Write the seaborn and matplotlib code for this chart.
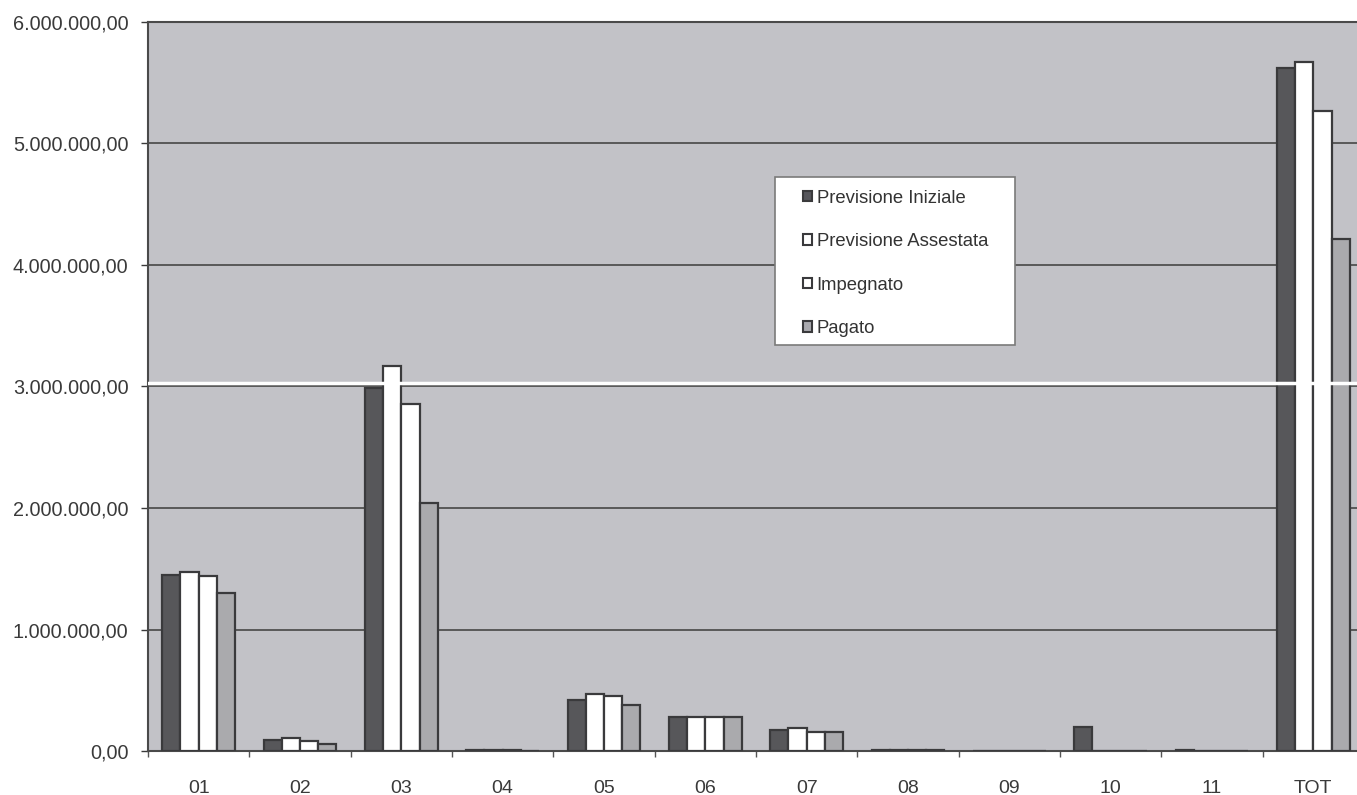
import numpy as np
import pandas as pd
import seaborn as sns
import matplotlib.pyplot as plt
from matplotlib.patches import Patch, Rectangle
from matplotlib.ticker import FuncFormatter

# dati
categorie = ["01", "02", "03", "04", "05", "06", "07", "08", "09", "10", "11", "TOT"]
previsione_iniziale = [1450000, 90000, 2990000, 8000, 420000, 280000, 170000, 10000, 0, 195000, 8000, 5620000]
previsione_assestata = [1470000, 110000, 3170000, 8000, 470000, 280000, 190000, 10000, 0, 0, 0, 5670000]
impegnato = [1440000, 85000, 2860000, 5000, 450000, 280000, 160000, 10000, 0, 0, 0, 5270000]
pagato = [1300000, 60000, 2040000, 3000, 380000, 280000, 155000, 10000, 0, 0, 0, 4210000]

serie = ["Previsione Iniziale", "Previsione Assestata", "Impegnato", "Pagato"]
colori = ["#56565b", "#ffffff", "#ffffff", "#a9a9ae"]
bordo = "#3a3a3c"
sfondo = "#c2c2c7"

df = pd.DataFrame({
    "cat": categorie,
    serie[0]: previsione_iniziale,
    serie[1]: previsione_assestata,
    serie[2]: impegnato,
    serie[3]: pagato,
}).melt(id_vars="cat", var_name="serie", value_name="valore")

plt.rcParams['font.family'] = ['Liberation Sans', 'DejaVu Sans']

fig = plt.figure(figsize=(13.57, 7.95), dpi=100)
ax = fig.add_axes([148 / 1357, 1 - 751 / 795, 1216 / 1357, 729 / 795])
ax.set_facecolor(sfondo)

sns.barplot(data=df, x="cat", y="valore", hue="serie", hue_order=serie,
            palette=colori, width=0.72, gap=0, errorbar=None,
            edgecolor=bordo, linewidth=1.6, legend=False, ax=ax, zorder=3)

ax.set_ylim(0, 6000000)
ax.set_xlim(-0.5, 11.5)
ax.set_yticks(np.arange(0, 6000001, 1000000))


def it_fmt(v, pos):
    s = f"{v:,.2f}"
    return s.replace(",", "X").replace(".", ",").replace("X", ".")


ax.yaxis.set_major_formatter(FuncFormatter(it_fmt))
ax.grid(axis="y", color="#505050", linewidth=1.3, zorder=1)
ax.set_axisbelow(True)

ax.tick_params(axis="y", labelsize=14.3, colors="#3a3a3a", length=5, width=1, pad=9)
ax.tick_params(axis="x", labelsize=14, colors="#3a3a3a", length=0, pad=21)
ax.set_xticks(np.arange(-0.5, 12, 1), minor=True)
ax.tick_params(axis="x", which="minor", length=4, width=1, color="#555555")
ax.set_xlabel("")
ax.set_ylabel("")

for lato in ["left", "bottom", "top"]:
    ax.spines[lato].set_color("#4a4a4a")
    ax.spines[lato].set_linewidth(1.5)
ax.spines["right"].set_visible(False)

# riga bianca della scansione
ax.axhline(3030000, color="white", linewidth=2.5, zorder=5)

# riquadro della legenda
box = Rectangle((0.5156, 0.5569), 0.713 - 0.5156, 0.7874 - 0.5569,
                transform=ax.transAxes, facecolor="white", edgecolor="#7a7a7a",
                linewidth=1.2, zorder=6)
ax.add_patch(box)

handles = [Patch(facecolor=c, edgecolor=bordo, linewidth=1.5) for c in colori]
leg = ax.legend(handles, serie, loc="upper left", bbox_to_anchor=(0.5385, 0.770),
                borderaxespad=0, borderpad=0, frameon=False, fontsize=13.3,
                labelspacing=1.43, handlelength=0.5, handleheight=0.5,
                handletextpad=0.25)
leg.set_zorder(7)
for t in leg.get_texts():
    t.set_color("#333333")

fig.savefig("out.png", dpi=100)
